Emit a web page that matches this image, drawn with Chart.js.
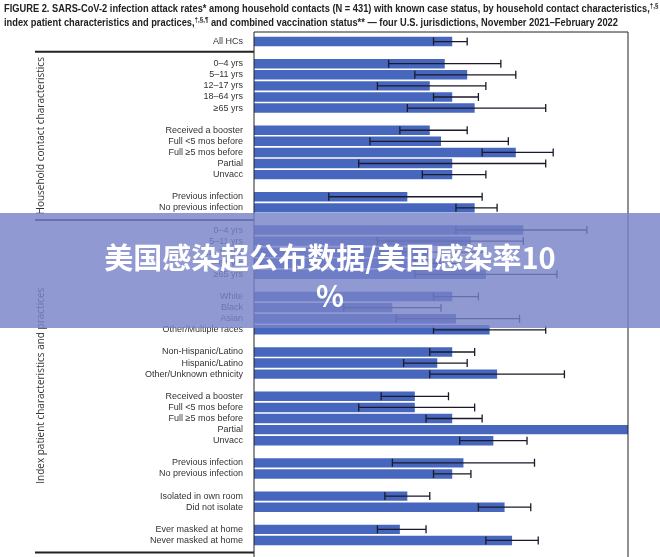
<!DOCTYPE html>
<html>
<head>
<meta charset="utf-8">
<script src="https://cdn.jsdelivr.net/npm/chart.js@4/dist/chart.umd.min.js"></script>
<style>
  html, body { margin: 0; padding: 0; background: #fff; overflow: hidden; width: 660px; height: 557px; }
  #title { position: absolute; left: 4px; top: 1px; white-space: nowrap; font: bold 10.5px "Liberation Sans", Arial, sans-serif; color: #222; line-height: 14px; transform: scaleX(0.885); transform-origin: 0 0; }
  #title sup { font-size: 7px; line-height: 0; }
  #wrap { position: absolute; left: 0; top: 0; width: 660px; height: 557px; }
  #banner { position: absolute; left: 0; top: 213px; width: 660px; height: 115px; background: rgba(120, 130, 200, 0.82); color: #fff; font: bold 29px "Noto Sans CJK SC", sans-serif; text-align: center; line-height: 38px; padding-top: 24px; box-sizing: border-box; }
</style>
</head>
<body>
<div id="wrap"><canvas id="c"></canvas></div>
<div id="title">FIGURE 2. SARS-CoV-2 infection attack rates* among household contacts (N = 431) with known case status, by household contact characteristics,<sup>†,§</sup><br>index patient characteristics and practices,<sup>†,§,¶</sup> and combined vaccination status** — four U.S. jurisdictions, November 2021–February 2022</div>
<div id="banner">美国感染超公布数据/美国感染率10<br>%</div>
<script>
// rows ('' = spacer slot between groups)
const labels = [
  'All HCs', '',
  '0–4 yrs', '5–11 yrs', '12–17 yrs', '18–64 yrs', '≥65 yrs', '',
  'Received a booster', 'Full <5 mos before', 'Full ≥5 mos before', 'Partial', 'Unvacc', '',
  'Previous infection', 'No previous infection', '',
  '0–4 yrs', '5–11 yrs', '12–17 yrs', '18–64 yrs', '≥65 yrs', '',
  'White', 'Black', 'Asian', 'Other/Multiple races', '',
  'Non-Hispanic/Latino', 'Hispanic/Latino', 'Other/Unknown ethnicity', '',
  'Received a booster', 'Full <5 mos before', 'Full ≥5 mos before', 'Partial', 'Unvacc', '',
  'Previous infection', 'No previous infection', '',
  'Isolated in own room', 'Did not isolate', '',
  'Ever masked at home', 'Never masked at home'
];
const rates = [
  53, null,
  51, 57, 47, 53, 59, null,
  47, 50, 70, 53, 53, null,
  41, 59, null,
  72, 58, 47, 50, 62, null,
  53, 37, 54, 63, null,
  53, 49, 65, null,
  43, 43, 53, 100, 64, null,
  56, 53, null,
  41, 67, null,
  39, 69
];
const lower = [
  48, null,
  36, 43, 33, 48, 41, null,
  39, 31, 61, 28, 45, null,
  20, 54, null,
  54, 33, 34, 43, 43, null,
  48, 24, 38, 48, null,
  47, 40, 47, null,
  34, 28, 46, null, 55, null,
  37, 48, null,
  35, 60, null,
  33, 62
];
const upper = [
  57, null,
  66, 70, 62, 60, 78, null,
  57, 68, 80, 78, 62, null,
  61, 65, null,
  89, 72, 62, 55, 81, null,
  60, 50, 71, 78, null,
  59, 57, 83, null,
  52, 59, 61, null, 73, null,
  75, 58, null,
  47, 74, null,
  46, 76
];

const font = { family: '"Liberation Sans", Arial, sans-serif', size: 9 };

const errorBars = {
  id: 'errorBars',
  afterDatasetsDraw(chart) {
    const { ctx, scales: { x, y } } = chart;
    ctx.save();
    ctx.strokeStyle = '#1a1a2a';
    ctx.lineWidth = 1.3;
    lower.forEach((lo, i) => {
      if (lo == null) return;
      const yy = y.getPixelForValue(i);
      const x1 = x.getPixelForValue(lo), x2 = x.getPixelForValue(upper[i]);
      ctx.beginPath();
      ctx.moveTo(x1, yy); ctx.lineTo(x2, yy);
      ctx.moveTo(x1, yy - 4); ctx.lineTo(x1, yy + 4);
      ctx.moveTo(x2, yy - 4); ctx.lineTo(x2, yy + 4);
      ctx.stroke();
    });
    // frame and group separators
    const a = chart.chartArea;
    ctx.strokeStyle = '#222';
    ctx.lineWidth = 1;
    ctx.beginPath();
    ctx.moveTo(a.left, 600); ctx.lineTo(a.left, 32); ctx.lineTo(a.right, 32); ctx.lineTo(a.right, 600);
    ctx.stroke();
    ctx.lineWidth = 2;
    const sep = (yy) => { ctx.beginPath(); ctx.moveTo(35, yy); ctx.lineTo(a.left, yy); ctx.stroke(); };
    sep(y.getPixelForValue(1) - 1);
    sep(y.getPixelForValue(16) + 1);
    sep(y.getPixelForValue(labels.length - 1) + 12);
    // section titles
    ctx.fillStyle = '#333';
    ctx.font = '10px "Open Sans", sans-serif';
    ctx.textAlign = 'center';
    const vt = (txt, y0, y1) => {
      ctx.save();
      ctx.translate(44, (y0 + y1) / 2);
      ctx.rotate(-Math.PI / 2);
      ctx.fillText(txt, 0, 0);
      ctx.restore();
    };
    vt('Household contact characteristics', y.getPixelForValue(1), y.getPixelForValue(16));
    vt('Index patient characteristics and practices', y.getPixelForValue(16), y.getPixelForValue(labels.length - 1) + 12);
    ctx.restore();
  }
};

new Chart(document.getElementById('c'), {
  type: 'bar',
  data: {
    labels,
    datasets: [{
      data: rates,
      backgroundColor: '#4766bd',
      categoryPercentage: 1,
      barPercentage: 0.85
    }]
  },
  options: {
    indexAxis: 'y',
    responsive: true,
    maintainAspectRatio: false,
    animation: false,
    layout: { padding: { top: 36, right: 32, bottom: 11 } },
    plugins: { legend: { display: false }, tooltip: { enabled: false } },
    scales: {
      x: { min: 0, max: 100, display: false, grid: { display: false } },
      y: {
        grid: { display: false, drawTicks: true },
        border: { display: false },
        ticks: { color: '#333', font, autoSkip: false, padding: 3 },
        afterFit: (s) => { s.width = 254; }
      }
    }
  },
  plugins: [errorBars]
});
</script>
</body>
</html>
